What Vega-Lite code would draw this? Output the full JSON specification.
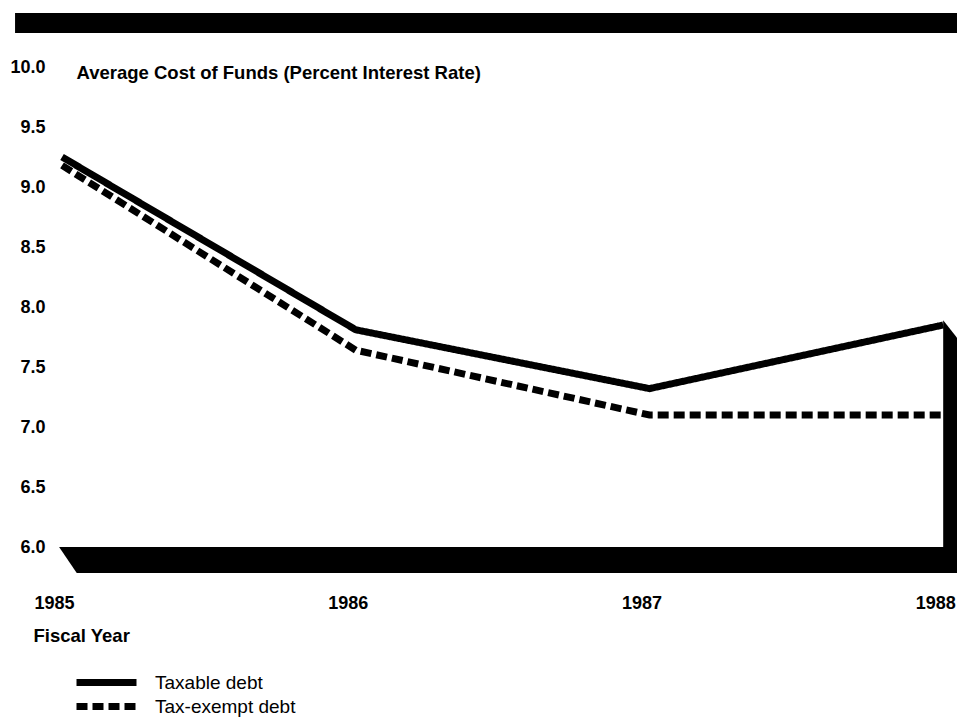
{
  "$schema": "https://vega.github.io/schema/vega-lite/v6.json",
  "width": 907,
  "height": 570,
  "padding": {"left": 50, "top": 7, "right": 0, "bottom": 142},
  "autosize": {"type": "none"},
  "background": "white",
  "config": {"view": {"stroke": null}, "font": "Liberation Sans"},
  "datasets": {
    "rates": [
      {"series": "Taxable debt", "year": 1985, "value": 9.25},
      {"series": "Taxable debt", "year": 1986, "value": 7.81},
      {"series": "Taxable debt", "year": 1987, "value": 7.32},
      {"series": "Taxable debt", "year": 1988, "value": 7.85},
      {"series": "Tax-exempt debt", "year": 1985, "value": 9.18},
      {"series": "Tax-exempt debt", "year": 1986, "value": 7.64},
      {"series": "Tax-exempt debt", "year": 1987, "value": 7.1},
      {"series": "Tax-exempt debt", "year": 1988, "value": 7.1}
    ],
    "shade": [
      {"part": "top", "year": 1984.84, "value": 10.45, "lo": 10.283},
      {"part": "top", "year": 1988.06, "value": 10.45, "lo": 10.283},
      {"part": "floor", "year": 1984.99, "value": 6.0, "lo": 6.0},
      {"part": "floor", "year": 1985.05, "value": 6.0, "lo": 5.783},
      {"part": "floor", "year": 1988.06, "value": 6.0, "lo": 5.783},
      {"part": "wall", "year": 1988.0, "value": 7.89, "lo": 5.783},
      {"part": "wall", "year": 1988.048, "value": 7.74, "lo": 5.783}
    ]
  },
  "encoding": {
    "x": {
      "field": "year",
      "type": "quantitative",
      "scale": {"domain": [1984.959, 1988.047], "nice": false, "zero": false},
      "axis": {
        "values": [1985, 1986, 1987, 1988],
        "format": "d",
        "ticks": false,
        "domain": false,
        "grid": false,
        "labelFlush": false,
        "labelOverlap": false,
        "labelBaseline": "middle",
        "labelPadding": 26,
        "labelOffset": -8,
        "labelFont": "Liberation Sans",
        "labelFontWeight": "bold",
        "labelFontSize": 18,
        "labelColor": "black",
        "title": "Fiscal Year",
        "titleFont": "Liberation Sans",
        "titleFontWeight": "bold",
        "titleFontSize": 18.5,
        "titleColor": "black",
        "titleAnchor": "start",
        "titleAlign": "left",
        "titleBaseline": "middle",
        "titleX": -17,
        "titleY": 58
      }
    },
    "y": {
      "field": "value",
      "type": "quantitative",
      "scale": {"domain": [5.75, 10.5], "nice": false, "zero": false},
      "axis": {
        "values": [6, 6.5, 7, 7.5, 8, 8.5, 9, 9.5, 10],
        "format": ".1f",
        "ticks": false,
        "domain": false,
        "grid": false,
        "labelPadding": 5,
        "labelFont": "Liberation Sans",
        "labelFontWeight": "bold",
        "labelFontSize": 18,
        "labelColor": "black",
        "title": "Average Cost of Funds (Percent Interest Rate)",
        "titleAngle": 0,
        "titleFont": "Liberation Sans",
        "titleFontWeight": "bold",
        "titleFontSize": 18.5,
        "titleColor": "black",
        "titleAlign": "left",
        "titleBaseline": "middle",
        "titleX": 26,
        "titleY": 65
      }
    }
  },
  "layer": [
    {
      "data": {"name": "shade"},
      "mark": {"type": "area", "color": "black", "interpolate": "linear"},
      "encoding": {
        "y2": {"field": "lo"},
        "detail": {"field": "part", "type": "nominal"}
      }
    },
    {
      "data": {"name": "rates"},
      "mark": {"type": "line", "color": "black", "strokeWidth": 7, "strokeCap": "butt"},
      "encoding": {
        "strokeDash": {
          "field": "series",
          "type": "nominal",
          "scale": {"domain": ["Taxable debt", "Tax-exempt debt"], "range": [[1, 0], [11, 5]]},
          "legend": {
            "orient": "none",
            "legendX": 47,
            "legendY": 666,
            "title": null,
            "padding": 0,
            "symbolType": "M-5,0H5",
            "symbolSize": 144,
            "symbolStrokeWidth": 7,
            "symbolStrokeColor": "black",
            "symbolFillColor": "transparent",
            "rowPadding": -14,
            "labelOffset": 39,
            "labelFont": "Liberation Sans",
            "labelFontSize": 19,
            "labelColor": "black",
            "labelLimit": 400
          }
        }
      }
    }
  ]
}
